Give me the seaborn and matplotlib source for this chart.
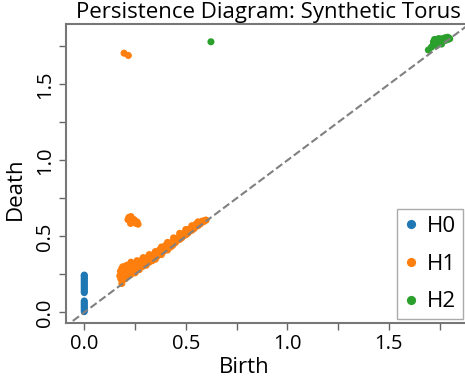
import matplotlib
matplotlib.use("Agg")
import matplotlib.pyplot as plt
import seaborn as sns
import pandas as pd

# ---- data ----
h0_birth = [0.0] * 21
h0_death = [0.005, 0.015, 0.025, 0.035, 0.045, 0.055, 0.065, 0.075,
            0.13, 0.14, 0.15, 0.16, 0.17, 0.18, 0.19, 0.20, 0.21, 0.22, 0.23, 0.24, 0.245]

h1_birth = [0.175, 0.178, 0.18, 0.185, 0.185, 0.19, 0.195, 0.20, 0.20, 0.205, 0.21, 0.215, 0.22, 0.225,
            0.23, 0.235, 0.24, 0.245, 0.25, 0.255,
            0.26, 0.265, 0.27, 0.275, 0.28, 0.285, 0.29, 0.295, 0.30, 0.305, 0.31, 0.315, 0.32, 0.325,
            0.33, 0.335, 0.34, 0.345, 0.35,
            0.355, 0.36, 0.365, 0.37, 0.375, 0.38, 0.385, 0.39, 0.395, 0.40, 0.405, 0.41, 0.415, 0.42,
            0.425, 0.43, 0.435, 0.44, 0.445, 0.45,
            0.455, 0.46, 0.465, 0.47, 0.475, 0.48, 0.485, 0.49, 0.495, 0.50, 0.505, 0.51, 0.515, 0.52,
            0.525, 0.53, 0.535, 0.54, 0.545, 0.55, 0.555, 0.56, 0.565, 0.57, 0.575, 0.58, 0.585, 0.59,
            0.595, 0.60,
            0.19, 0.21, 0.23, 0.26, 0.29, 0.32, 0.35, 0.38, 0.41, 0.44, 0.47, 0.50, 0.53, 0.56,
            0.215, 0.22, 0.225, 0.23, 0.235, 0.24, 0.245, 0.25, 0.255, 0.26, 0.265, 0.228,
            0.196, 0.217]
h1_death = [0.24, 0.27, 0.22, 0.19, 0.29, 0.25, 0.28, 0.22, 0.30, 0.26, 0.29, 0.24, 0.31, 0.27,
            0.25, 0.30, 0.32, 0.28, 0.26, 0.31,
            0.33, 0.29, 0.28, 0.32, 0.34, 0.30, 0.31, 0.35, 0.33, 0.31, 0.36, 0.34, 0.33, 0.37,
            0.35, 0.34, 0.38, 0.36, 0.35,
            0.39, 0.37, 0.38, 0.41, 0.39, 0.38, 0.42, 0.40, 0.41, 0.44, 0.42, 0.41, 0.45, 0.43,
            0.43, 0.46, 0.44, 0.45, 0.48, 0.46,
            0.47, 0.49, 0.48, 0.48, 0.51, 0.49, 0.50, 0.52, 0.51, 0.51, 0.54, 0.52, 0.53, 0.55,
            0.54, 0.54, 0.56, 0.55, 0.56, 0.58, 0.57, 0.57, 0.59, 0.58, 0.59, 0.60, 0.595, 0.60,
            0.605, 0.607,
            0.30, 0.31, 0.33, 0.34, 0.36, 0.38, 0.40, 0.43, 0.46, 0.49, 0.52, 0.545, 0.57, 0.595,
            0.61, 0.625, 0.60, 0.63, 0.615, 0.595, 0.61, 0.60, 0.585, 0.595, 0.58, 0.585,
            1.705, 1.69]

h2_birth = [0.624, 1.695, 1.71, 1.72, 1.725, 1.73, 1.74, 1.745, 1.75, 1.755, 1.76, 1.765, 1.77,
            1.775, 1.78, 1.785, 1.79, 1.795, 1.80, 1.735, 1.76,
            1.72, 1.73, 1.75, 1.77, 1.78, 1.79, 1.745, 1.725]
h2_death = [1.78, 1.726, 1.745, 1.765, 1.78, 1.795, 1.77, 1.79, 1.80, 1.775, 1.79, 1.80, 1.785,
            1.805, 1.79, 1.80, 1.795, 1.805, 1.80, 1.755, 1.765,
            1.78, 1.765, 1.785, 1.795, 1.805, 1.81, 1.80, 1.795]

dims = ["H0", "H1", "H2"]
colors = ["#1f77b4", "#ff7f0e", "#2ca02c"]
x_ticks = [0.0, 0.25, 0.5, 0.75, 1.0, 1.25, 1.5, 1.75]
x_ticklabels = ["0.0", "", "0.5", "", "1.0", "", "1.5", ""]
y_ticks = [0.0, 0.25, 0.5, 0.75, 1.0, 1.25, 1.5, 1.75]
y_ticklabels = ["0.0", "", "0.5", "", "1.0", "", "1.5", ""]

df = pd.DataFrame({
    "Birth": h0_birth + h1_birth + h2_birth,
    "Death": h0_death + h1_death + h2_death,
    "dim": ["H0"] * len(h0_birth) + ["H1"] * len(h1_birth) + ["H2"] * len(h2_birth),
})

sns.set_style("ticks")
plt.rcParams["font.family"] = ["Open Sans", "DejaVu Sans"]
plt.rcParams["text.color"] = "black"
plt.rcParams["axes.labelcolor"] = "black"
plt.rcParams["xtick.labelcolor"] = "black"
plt.rcParams["ytick.labelcolor"] = "black"

fig = plt.figure(figsize=(4.65, 3.81), dpi=100)
ax = fig.add_axes([66 / 465, 58 / 381, 404 / 465, 299 / 381])

sns.scatterplot(data=df, x="Birth", y="Death", hue="dim", hue_order=dims,
                palette=colors, s=26, linewidth=0, ax=ax, zorder=2)

ax.set_xlim(-0.09, 1.90)
ax.set_ylim(-0.07, 1.897)
ax.plot([-0.1, 2.0], [-0.1, 2.0], linestyle="--", color="#808080", lw=1.5, zorder=3)

ax.set_xticks(x_ticks)
ax.set_xticklabels(x_ticklabels)
ax.set_yticks(y_ticks)
ax.set_yticklabels(y_ticklabels, rotation=90, va="center")
ax.tick_params(axis="both", labelsize=14.5, length=5, width=1, color="#666666", pad=3)

for side in ["left", "bottom", "top"]:
    ax.spines[side].set_color("#777777")
    ax.spines[side].set_linewidth(1.5)
ax.spines["right"].set_visible(False)

ax.set_xlabel("Birth", fontsize=16)
ax.set_ylabel("Death", fontsize=16)
ax.xaxis.set_label_coords((244 - 66) / 404, -0.115)
ax.yaxis.set_label_coords(-0.1, (323 - 189) / 299)
ax.set_title("Persistence Diagram: Synthetic Torus", fontsize=16, pad=4)

handles, labels = ax.get_legend_handles_labels()
leg = ax.legend(handles, labels, loc="lower right",
                bbox_to_anchor=(463 / 465, 62 / 381), bbox_transform=fig.transFigure,
                borderaxespad=0, fontsize=16, markerscale=1.3, handlelength=0.6,
                handletextpad=0.45, labelspacing=0.75, borderpad=0.3,
                fancybox=False, frameon=True, framealpha=1)
leg.get_frame().set_edgecolor("#aaaaaa")
leg.get_frame().set_linewidth(1)

fig.savefig("out.png", dpi=100)
